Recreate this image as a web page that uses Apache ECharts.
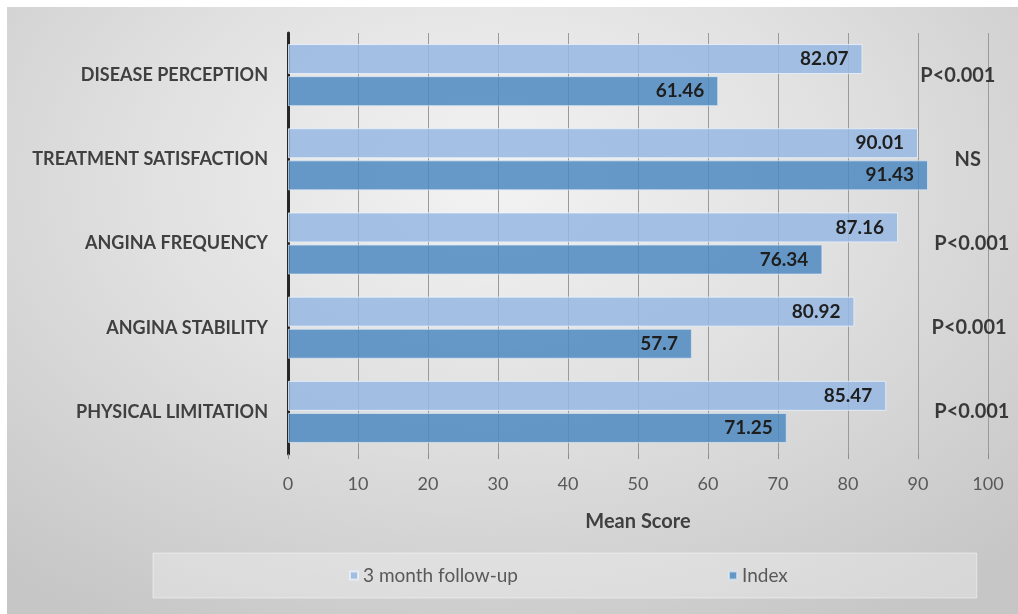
<!DOCTYPE html>
<html>
<head>
<meta charset="utf-8">
<script src="https://cdn.jsdelivr.net/npm/echarts@6/dist/echarts.min.js"></script>
<style>
    html, body { margin: 0; padding: 0; background: #fff; }
    #panel {
        position: absolute; left: 7px; top: 7px; width: 1011px; height: 607px;
        background: radial-gradient(ellipse 75% 85% at 48% 28%, #f3f3f3 0%, #e1e1e1 45%, #c6c6c6 100%);
    }
    #container { position: absolute; left: 0; top: 0; width: 1018px; height: 614px; }
</style>
</head>
<body>
<div id="panel"></div>
<div id="container"></div>
<script>
var categories = ['DISEASE PERCEPTION', 'TREATMENT SATISFACTION', 'ANGINA FREQUENCY', 'ANGINA STABILITY', 'PHYSICAL LIMITATION'];
var followUp = [82.07, 90.01, 87.16, 80.92, 85.47];
var indexScore = [61.46, 91.43, 76.34, 57.7, 71.25];
var pValues = ['P<0.001', 'NS', 'P<0.001', 'P<0.001', 'P<0.001'];
var pValueX = [95.7, 97.1, 97.7, 97.3, 97.7];
var xTicks = [0, 10, 20, 30, 40, 50, 60, 70, 80, 90, 100];

var chart = echarts.init(document.getElementById('container'));

var pData = pValueX.map(function (x, i) {
    return { value: [x, categories[i]], label: { formatter: pValues[i] } };
});

var barLabel = {
    show: true,
    position: 'insideRight',
    distance: 14,
    fontFamily: 'Lato',
    fontWeight: 'bold',
    fontSize: 19,
    color: '#1e1e1e'
};

var option = {
    animation: false,
    textStyle: { fontFamily: 'Lato' },
    grid: { left: 288, right: 30, top: 33, bottom: 160 },
    legend: {
        data: ['3 month follow-up', 'Index'],
        left: 153,
        top: 553,
        padding: [13, 189, 13, 196],
        backgroundColor: 'rgba(255,255,255,0.3)',
        borderColor: 'rgba(255,255,255,0.45)',
        borderWidth: 1,
        itemWidth: 8,
        itemHeight: 8,
        itemGap: 210,
        icon: 'rect',
        textStyle: { fontFamily: 'Lato', fontSize: 19, color: '#595959' }
    },
    xAxis: {
        type: 'value',
        min: 0,
        max: 100,
        interval: 10,
        name: 'Mean Score',
        nameLocation: 'middle',
        nameGap: 58,
        nameTextStyle: { fontFamily: 'Lato', fontWeight: 'bold', fontSize: 20, color: '#404040' },
        axisLine: { show: false },
        axisTick: { show: true, length: 5, lineStyle: { color: '#8c8c8c' } },
        axisLabel: {
            margin: 21,
            fontSize: 18,
            color: '#595959',
            formatter: function (v) { return xTicks.indexOf(v) >= 0 ? String(v) : ''; }
        },
        splitLine: { show: true, lineStyle: { color: '#9a9a9a', width: 1 } }
    },
    yAxis: {
        type: 'category',
        data: categories,
        inverse: true,
        axisLine: { show: true, lineStyle: { color: '#262626', width: 3 } },
        axisTick: { show: false },
        axisLabel: {
            margin: 20,
            fontFamily: 'Lato',
            fontWeight: 'bold',
            fontSize: 18,
            color: '#404040'
        }
    },
    series: [{
        name: '3 month follow-up',
        type: 'bar',
        data: followUp,
        barWidth: 30,
        barGap: '7%',
        itemStyle: {
            color: 'rgba(150,183,227,0.85)',
            borderColor: 'rgba(235,242,250,0.8)',
            borderWidth: 1
        },
        label: barLabel
    }, {
        name: 'Index',
        type: 'bar',
        data: indexScore,
        barWidth: 30,
        itemStyle: {
            color: 'rgba(78,137,191,0.85)',
            borderColor: 'rgba(220,232,245,0.7)',
            borderWidth: 1
        },
        label: barLabel
    }, {
        name: 'p',
        type: 'scatter',
        data: pData,
        symbolSize: 1,
        itemStyle: { color: 'rgba(0,0,0,0)' },
        label: {
            show: true,
            position: 'inside',
            fontFamily: 'Lato',
            fontWeight: 'bold',
            fontSize: 20,
            color: '#111'
        },
        z: 5
    }]
};

chart.setOption(option);
</script>
</body>
</html>
